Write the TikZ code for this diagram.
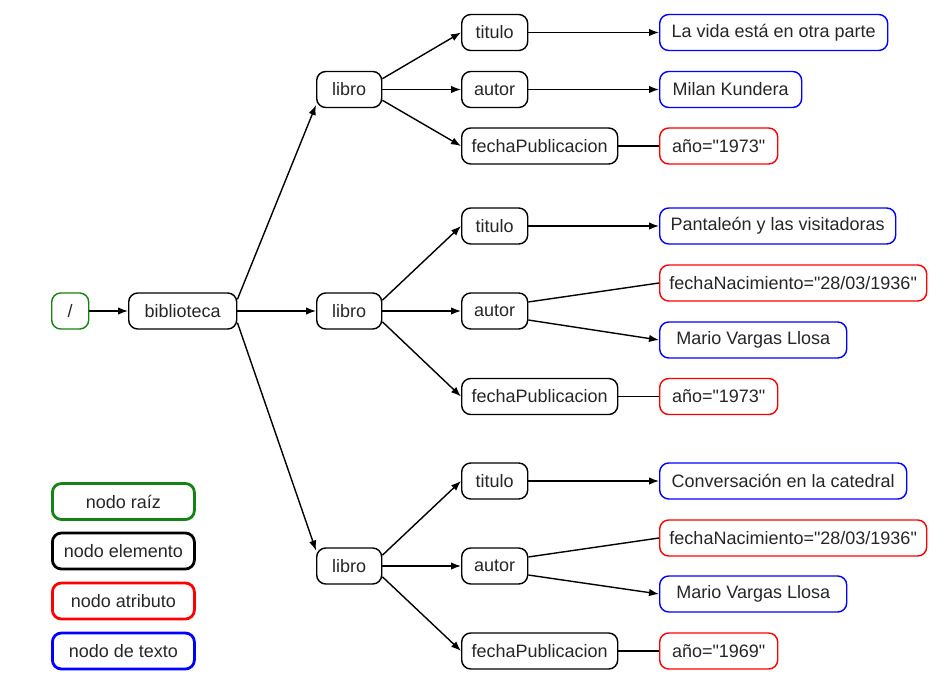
\documentclass[tikz,border=0pt]{standalone}
\usepackage{fontspec}
\setmainfont{Liberation Sans}[Ligatures=TeXOff]
\usetikzlibrary{arrows.meta}
\definecolor{rootgreen}{RGB}{20,130,20}
\definecolor{attrred}{RGB}{255,0,0}
\definecolor{txtblue}{RGB}{0,0,255}
\begin{document}
\begin{tikzpicture}[x=1pt,y=-1pt,
  base/.style={draw, rounded corners=9pt, line width=1.4pt, minimum height=36pt,
     inner sep=0pt, anchor=west, font=\fontsize{18}{21}\selectfont, text=black!85},
  elem/.style={base, draw=black},
  attr/.style={base, draw=attrred},
  txt/.style={base, draw=txtblue},
  rootn/.style={base, draw=rootgreen},
  leg/.style={line width=2.8pt, minimum width=142pt},
  arr/.style={-{Latex[length=10pt,width=7.5pt]}, line width=1.4pt},
  ln/.style={line width=1.4pt}]
\useasboundingbox (0,0) rectangle (945,679);

% main column
\node[rootn, minimum width=37pt] (root) at (51,311) {/};
\node[elem, minimum width=108pt] (bib) at (128,311) {biblioteca};
\node[elem, minimum width=65pt] (l1) at (316,89.5) {libro};
\node[elem, minimum width=65pt] (l2) at (316,311) {libro};
\node[elem, minimum width=65pt] (l3) at (316,566) {libro};

% block 1
\node[elem, minimum width=66pt] (t1) at (461,32.5) {titulo};
\node[elem, minimum width=66pt] (a1) at (461,89.5) {autor};
\node[elem, minimum width=156pt] (f1) at (461,146) {fechaPublicacion};
\node[txt, minimum width=228pt] (v1) at (659,32.5) {La vida está en otra parte};
\node[txt, minimum width=142pt] (m1) at (659,89.5) {Milan Kundera};
\node[attr, minimum width=118pt] (y1) at (659,146) {año="1973"};

% block 2
\node[elem, minimum width=66pt] (t2) at (461,226) {titulo};
\node[elem, minimum width=66pt] (a2) at (461,311) {autor};
\node[elem, minimum width=156pt] (f2) at (461,396.5) {fechaPublicacion};
\node[txt, minimum width=236pt] (v2) at (659,226) {Pantaleón y las visitadoras};
\node[attr, minimum width=267pt] (n2) at (659,283) {fechaNacimiento="28/03/1936"};
\node[txt, minimum width=187pt] (m2) at (659,340) {Mario Vargas Llosa};
\node[attr, minimum width=118pt] (y2) at (659,396.5) {año="1973"};

% block 3
\node[elem, minimum width=66pt] (t3) at (461,481) {titulo};
\node[elem, minimum width=66pt] (a3) at (461,566) {autor};
\node[elem, minimum width=156pt] (f3) at (461,651) {fechaPublicacion};
\node[txt, minimum width=247pt] (v3) at (659,481) {Conversación en la catedral};
\node[attr, minimum width=267pt] (n3) at (659,538) {fechaNacimiento="28/03/1936"};
\node[txt, minimum width=187pt] (m3) at (659,594) {Mario Vargas Llosa};
\node[attr, minimum width=118pt] (y3) at (659,651) {año="1969"};

% legend
\node[rootn, leg] (g1) at (51,501.5) {nodo raíz};
\node[elem, leg] (g2) at (51,551) {nodo elemento};
\node[attr, leg] (g3) at (51,601) {nodo atributo};
\node[txt, leg] (g4) at (51,651) {nodo de texto};

% connectors
\draw[arr] (root) -- (bib);
\draw[arr] (bib.12) -- (l1.205);
\draw[arr] (bib) -- (l2);
\draw[arr] (bib.-12) -- (l3.155);

\draw[arr] (l1.18) -- (t1.west);
\draw[arr] (l1) -- (a1);
\draw[arr] (l1.-18) -- (f1.west);
\draw[arr] (t1) -- (v1);
\draw[arr] (a1) -- (m1);
\draw[ln] (f1) -- (y1);

\draw[arr] (l2.18) -- (t2.west);
\draw[arr] (l2) -- (a2);
\draw[arr] (l2.-18) -- (f2.west);
\draw[arr] (t2) -- (v2);
\draw[ln] (a2.15) -- (n2.west);
\draw[arr] (a2.-15) -- (m2.west);
\draw[ln] (f2) -- (y2);

\draw[arr] (l3.18) -- (t3.west);
\draw[arr] (l3) -- (a3);
\draw[arr] (l3.-18) -- (f3.west);
\draw[arr] (t3) -- (v3);
\draw[ln] (a3.15) -- (n3.west);
\draw[arr] (a3.-15) -- (m3.west);
\draw[ln] (f3) -- (y3);
\end{tikzpicture}
\end{document}
